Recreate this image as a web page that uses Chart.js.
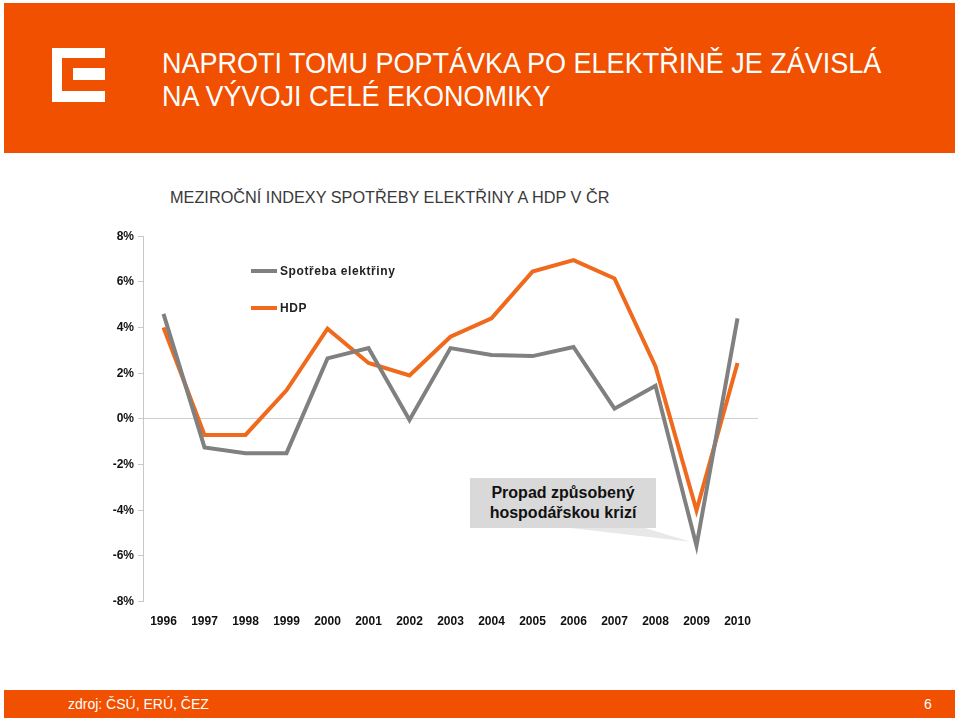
<!DOCTYPE html>
<html>
<head>
<meta charset="utf-8">
<script src="https://cdn.jsdelivr.net/npm/chart.js@4/dist/chart.umd.min.js"></script>
<style>
  body { margin: 0; width: 959px; height: 721px; background: #fff; position: relative; overflow: hidden;
    font-family: Arial, "Liberation Sans", sans-serif; }
  .band { position: absolute; background: #f05000; }
  #head { left: 4px; top: 3px; width: 951px; height: 150px; }
  #foot { left: 4px; top: 690px; width: 951px; height: 28px; }
  .logo { position: absolute; }
  #title { position: absolute; left: 162px; top: 46px; color: #fff; font-size: 30px; line-height: 33px;
    transform: scaleX(0.9); transform-origin: 0 0; white-space: nowrap; }
  #sub { position: absolute; left: 170px; top: 188px; color: #3a3a3a; font-size: 16.3px; white-space: nowrap; }
  #src { position: absolute; left: 68px; top: 696px; color: #fff; font-size: 14px; }
  #page { position: absolute; left: 924px; top: 696px; color: #fff; font-size: 14px; }
  #chartBox { position: absolute; left: 90px; top: 225px; width: 680px; height: 409px; }
  .lg { position: absolute; font-size: 12px; font-weight: bold; color: #222; letter-spacing: 0.6px; }
  .lgline { position: absolute; height: 4px; width: 26px; }
  #note { position: absolute; left: 470px; top: 478px; width: 186px; height: 50px; background: #d9d9d9;
    font-size: 16px; font-weight: bold; color: #111; text-align: center; line-height: 20px; padding-top: 5px; box-sizing: border-box; }
</style>
</head>
<body>
<div class="band" id="head"></div>
<div class="logo" style="left:52px;top:48px;width:53px;height:54px;background:#fff"></div>
<div class="logo" style="left:62px;top:58px;width:43px;height:33px;background:#f05000"></div>
<div class="logo" style="left:73px;top:68px;width:32px;height:12px;background:#fff"></div>
<div id="title">NAPROTI TOMU POPTÁVKA PO ELEKTŘINĚ JE ZÁVISLÁ<br>NA VÝVOJI CELÉ EKONOMIKY</div>
<div id="sub">MEZIROČNÍ INDEXY SPOTŘEBY ELEKTŘINY A HDP V ČR</div>

<div id="chartBox"><canvas id="c" width="680" height="409"></canvas></div>

<div class="lgline" style="left:251px;top:269px;background:#808080"></div>
<div class="lg" style="left:280px;top:264px">Spotřeba elektřiny</div>
<div class="lgline" style="left:251px;top:306px;background:#ef6a1c"></div>
<div class="lg" style="left:280px;top:301px">HDP</div>

<div id="note">Propad způsobený<br>hospodářskou krizí</div>

<div class="band" id="foot"></div>
<div id="src">zdroj: ČSÚ, ERÚ, ČEZ</div>
<div id="page">6</div>

<script>
// meziroční změny v %
const years = ['1996', '1997', '1998', '1999', '2000', '2001', '2002', '2003',
               '2004', '2005', '2006', '2007', '2008', '2009', '2010'];
const spotreba = [4.6, -1.25, -1.5, -1.5, 2.65, 3.1, -0.05, 3.1, 2.8, 2.75, 3.15, 0.45, 1.45, -5.55, 4.4];
const hdp      = [4.0, -0.7, -0.7, 1.25, 3.95, 2.45, 1.9, 3.6, 4.4, 6.45, 6.95, 6.15, 2.3, -4.0, 2.45];
const yTicks = [-8, -6, -4, -2, 0, 2, 4, 6, 8];

const GRAY = '#808080';
const ORANGE = '#ef6a1c';

// ocásek bubliny směrem k propadu 2009
const calloutTail = {
  id: 'calloutTail',
  beforeDatasetsDraw(chart) {
    const x = chart.scales.x, y = chart.scales.y, ctx = chart.ctx;
    const i = years.indexOf('2009');
    const tx = x.getPixelForValue(i) - 6, ty = y.getPixelForValue(spotreba[i]) - 4;
    const box = chart.canvas.getBoundingClientRect();
    ctx.save();
    ctx.fillStyle = '#e8e8e8';
    ctx.beginPath();
    ctx.moveTo(570 - box.left, 528 - box.top);
    ctx.lineTo(645 - box.left, 528 - box.top);
    ctx.lineTo(tx, ty);
    ctx.closePath();
    ctx.fill();
    ctx.restore();
  }
};

new Chart(document.getElementById('c'), {
  type: 'line',
  data: { labels: years, datasets: [
    { label: 'Spotřeba elektřiny', data: spotreba, borderColor: GRAY, borderWidth: 4, pointRadius: 0, tension: 0 },
    { label: 'HDP', data: hdp, borderColor: ORANGE, borderWidth: 4, pointRadius: 0, tension: 0 }
  ]},
  options: {
    responsive: false, animation: false,
    layout: { padding: { top: 6, right: 12, bottom: 0, left: 0 } },
    plugins: { legend: { display: false }, tooltip: { enabled: false } },
    scales: {
      x: { offset: true, grid: { display: false }, border: { display: false },
        ticks: { color: '#111', padding: 5, maxRotation: 0, font: { size: 12, weight: 'bold', family: 'Arial' } } },
      y: { min: -8, max: 8, afterFit: s => { s.width = 53; },
        afterBuildTicks: s => { s.ticks = yTicks.map(v => ({ value: v })); },
        border: { color: '#c8c8c8' },
        grid: { color: c => c.tick && c.tick.value === 0 ? '#cfcfcf' : 'transparent', tickColor: '#c8c8c8', tickLength: 5 },
        ticks: { color: '#111', padding: 4, callback: v => v + '%', font: { size: 12, weight: 'bold', family: 'Arial' } } }
    }
  },
  plugins: [calloutTail]
});
</script>
</body>
</html>
